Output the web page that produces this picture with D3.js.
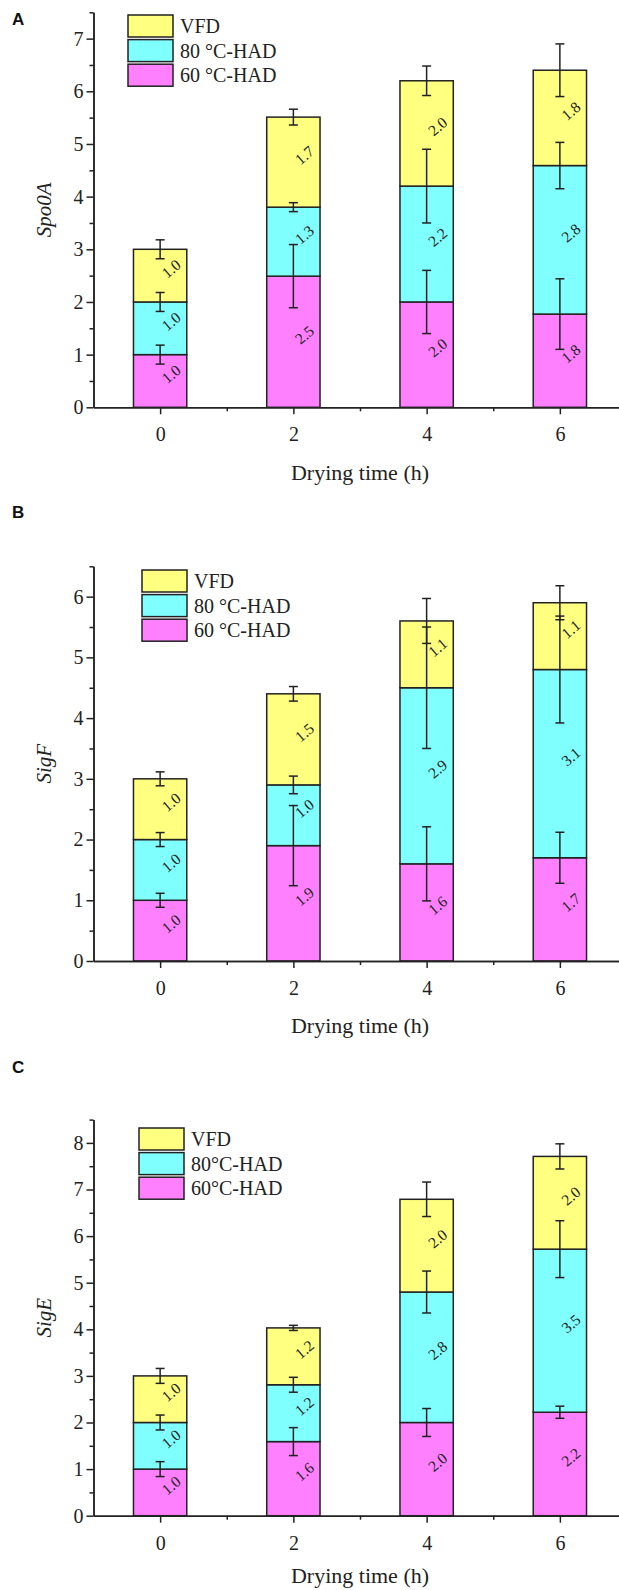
<!DOCTYPE html>
<html>
<head>
<meta charset="utf-8">
<script src="https://cdn.jsdelivr.net/npm/d3@7"></script>
<style>
  body { margin: 0; background: #fff; }
  svg { display: block; }
</style>
</head>
<body>
<script>
// data
const times = [0, 2, 4, 6]
const xMinor = [1, 3, 5]
const series = ["60", "80", "VFD"]
const colors = ["#ff80ff", "#80ffff", "#ffff80"]

// A - Spo0A
const spo0A_60 = [1.0, 2.49, 2.0, 1.77]
const spo0A_80 = [1.0, 1.31, 2.2, 2.82]
const spo0A_vfd = [1.0, 1.71, 2.0, 1.81]
const spo0A_err60 = [0.18, 0.6, 0.6, 0.67]
const spo0A_err80 = [0.18, 0.085, 0.7, 0.44]
const spo0A_errVfd = [0.18, 0.15, 0.28, 0.5]
const spo0A_ticks = [0, 1, 2, 3, 4, 5, 6, 7]

// B - SigF
const sigF_60 = [1.0, 1.9, 1.6, 1.7]
const sigF_80 = [1.0, 1.0, 2.9, 3.1]
const sigF_vfd = [1.0, 1.5, 1.1, 1.1]
const sigF_err60 = [0.115, 0.66, 0.61, 0.42]
const sigF_err80 = [0.115, 0.145, 1.0, 0.88]
const sigF_errVfd = [0.115, 0.12, 0.37, 0.28]
const sigF_ticks = [0, 1, 2, 3, 4, 5, 6]

// C - SigE
const sigE_60 = [1.0, 1.59, 2.0, 2.22]
const sigE_80 = [1.0, 1.22, 2.8, 3.5]
const sigE_vfd = [1.0, 1.22, 1.99, 1.99]
const sigE_err60 = [0.16, 0.3, 0.3, 0.13]
const sigE_err80 = [0.16, 0.16, 0.45, 0.61]
const sigE_errVfd = [0.16, 0.055, 0.37, 0.27]
const sigE_ticks = [0, 1, 2, 3, 4, 5, 6, 7, 8]

const legendA = ["VFD", "80 \u00b0C-HAD", "60 \u00b0C-HAD"]
const legendC = ["VFD", "80\u00b0C-HAD", "60\u00b0C-HAD"]

const w = 619, h = 1590
const serif = "'Liberation Serif','Times New Roman',serif"
const ink = "#222"

const svg = d3.select("body").append("svg")
  .attr("width", w).attr("height", h)

const x = d3.scaleLinear().domain([-1, 7]).range([93.5, 626.5])
const barW = x(0.8) - x(0)

function drawPanel(p) {
  const g = svg.append("g")
  const y = d3.scaleLinear().domain([0, p.yMax]).range([p.bottom, p.top])

  // stack the three layers
  const vals = [p.v60, p.v80, p.vfd]
  const errs = [p.e60, p.e80, p.eVfd]
  const segs = []
  times.forEach((t, i) => {
    let base = 0
    vals.forEach((v, k) => {
      segs.push({t: t, k: k, y0: base, y1: base + v[i], v: v[i], e: errs[k][i]})
      base += v[i]
    })
  })

  g.selectAll("rect.bar").data(segs).enter().append("rect")
    .attr("class", "bar")
    .attr("x", d => x(d.t) - barW / 2)
    .attr("y", d => y(d.y1))
    .attr("width", barW)
    .attr("height", d => y(d.y0) - y(d.y1))
    .attr("fill", d => colors[d.k])
    .attr("stroke", ink)
    .attr("stroke-width", 1.5)

  // value labels, tilted
  g.selectAll("text.val").data(segs).enter().append("text")
    .attr("class", "val")
    .attr("transform", d => "translate(" + (x(d.t) + 11) + "," + (y((d.y0 + d.y1) / 2) - 7) + ") rotate(-40)")
    .attr("text-anchor", "middle")
    .attr("dy", "0.35em")
    .style("font-family", serif)
    .style("font-size", "15.5px")
    .attr("fill", ink)
    .text(d => d.v.toFixed(1))

  // error bars at the top of each layer
  const eb = g.selectAll("g.err").data(segs).enter().append("g")
    .attr("stroke", ink).attr("stroke-width", 1.5)
  eb.append("line")
    .attr("x1", d => x(d.t)).attr("x2", d => x(d.t))
    .attr("y1", d => y(d.y1 - d.e)).attr("y2", d => y(d.y1 + d.e))
  eb.append("line")
    .attr("x1", d => x(d.t) - 4.5).attr("x2", d => x(d.t) + 4.5)
    .attr("y1", d => y(d.y1 + d.e)).attr("y2", d => y(d.y1 + d.e))
  eb.append("line")
    .attr("x1", d => x(d.t) - 4.5).attr("x2", d => x(d.t) + 4.5)
    .attr("y1", d => y(d.y1 - d.e)).attr("y2", d => y(d.y1 - d.e))

  // axes
  const yMinor = p.ticks.map(t => t + 0.5)
  g.append("g").attr("transform", "translate(" + x(-1) + ",0)")
    .call(d3.axisLeft(y).tickValues(p.ticks).tickFormat(d3.format("d")).tickSize(7).tickSizeOuter(0).tickPadding(3))
  g.append("g").attr("transform", "translate(" + x(-1) + ",0)")
    .call(d3.axisLeft(y).tickValues(yMinor).tickSize(4).tickSizeOuter(0).tickFormat(""))
  g.append("g").attr("transform", "translate(0," + p.bottom + ")")
    .call(d3.axisBottom(x).tickValues(times).tickFormat(d3.format("d")).tickSize(7).tickSizeOuter(0).tickPadding(13))
  g.append("g").attr("transform", "translate(0," + p.bottom + ")")
    .call(d3.axisBottom(x).tickValues(xMinor).tickSize(4).tickSizeOuter(0).tickFormat(""))

  g.selectAll(".domain, .tick line").attr("stroke", ink).attr("stroke-width", 1.5)
  g.selectAll(".tick text")
    .attr("font-family", serif)
    .style("font-family", serif).style("font-size", "20px").attr("fill", ink)

  // titles
  g.append("text")
    .attr("transform", "translate(44," + (p.top + p.bottom) / 2 + ") rotate(-90)")
    .attr("text-anchor", "middle").attr("dy", "0.35em")
    .style("font-family", serif).style("font-size", "21px").style("font-style", "italic")
    .attr("fill", ink)
    .text(p.name)
  g.append("text")
    .attr("x", (x(-1) + x(7)) / 2).attr("y", p.bottom + p.titleGap)
    .attr("text-anchor", "middle")
    .style("font-family", serif).style("font-size", "22px")
    .attr("fill", ink)
    .text("Drying time (h)")
  g.append("text")
    .attr("x", 12).attr("y", p.letterY)
    .style("font-family", "'Liberation Sans',Arial,sans-serif").style("font-size", "17px").style("font-weight", "bold")
    .attr("fill", "#111")
    .text(p.letter)

  // legend, top to bottom: VFD, 80, 60
  const lg = g.append("g").attr("transform", "translate(" + p.legX + "," + p.legY + ")")
  const items = lg.selectAll("g").data(p.legend).enter().append("g")
    .attr("transform", (d, i) => "translate(0," + i * 24.6 + ")")
  items.append("rect")
    .attr("width", 45).attr("height", 22)
    .attr("fill", (d, i) => colors[2 - i])
    .attr("stroke", ink).attr("stroke-width", 1.5)
  items.append("text")
    .attr("x", 52).attr("y", 18)
    .style("font-family", serif).style("font-size", "20px")
    .attr("fill", ink)
    .text(d => d)
}

drawPanel({letter: "A", letterY: 25, name: "Spo0A", top: 12.3, bottom: 407.3, yMax: 7.5, titleGap: 73,
  v60: spo0A_60, v80: spo0A_80, vfd: spo0A_vfd, e60: spo0A_err60, e80: spo0A_err80, eVfd: spo0A_errVfd,
  ticks: spo0A_ticks, legend: legendA, legX: 128, legY: 15})

drawPanel({letter: "B", letterY: 518, name: "SigF", top: 566.3, bottom: 961, yMax: 6.5, titleGap: 72,
  v60: sigF_60, v80: sigF_80, vfd: sigF_vfd, e60: sigF_err60, e80: sigF_err80, eVfd: sigF_errVfd,
  ticks: sigF_ticks, legend: legendA, legX: 142, legY: 570})

drawPanel({letter: "C", letterY: 1073, name: "SigE", top: 1119.6, bottom: 1515.7, yMax: 8.5, titleGap: 67,
  v60: sigE_60, v80: sigE_80, vfd: sigE_vfd, e60: sigE_err60, e80: sigE_err80, eVfd: sigE_errVfd,
  ticks: sigE_ticks, legend: legendC, legX: 139, legY: 1128})
</script>
</body>
</html>
